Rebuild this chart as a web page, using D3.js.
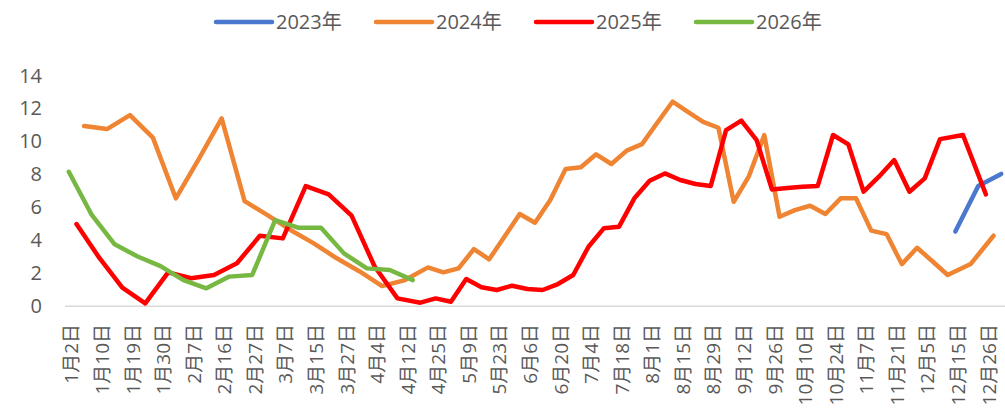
<!DOCTYPE html>
<html>
<head>
<meta charset="utf-8">
<script src="https://d3js.org/d3.v7.min.js"></script>
<style type="text/css">
  body { margin:0; background:#fff; }
  .canvas text { fill:#595959; font-family:"Open Sans","Noto Sans CJK SC",sans-serif; }
  .series { fill:none; stroke-width:4.5; stroke-linejoin:round; stroke-linecap:round; }
</style>
</head>
<body>
<svg id="visRegion" width="1005" height="409"></svg>
<script>
  // x axis labels, one every 4 categories (123 categories in all)
  var nCats = 123;
  var tickLabels = ["1月2日","1月10日","1月19日","1月30日","2月7日","2月16日","2月27日","3月7日",
    "3月15日","3月27日","4月4日","4月12日","4月25日","5月9日","5月23日","6月6日","6月20日",
    "7月4日","7月18日","8月1日","8月15日","8月29日","9月12日","9月26日","10月10日","10月24日",
    "11月7日","11月21日","12月5日","12月15日","12月26日"];
  var yTicks = [0,2,4,6,8,10,12,14];

  var seriesNames = ["2023年","2024年","2025年","2026年"];
  var seriesColors = ["#4a78ce","#ef8432","#ff0000","#77b843"];

  // category slot of every point of each year
  var idx2023 = [116,119,122];
  var idx2024 = [2,5,8,11,14,17,20,23,26,29,32,35,38,41,44,
    47,49,51,53,55,57,59,61,63,65,67,69,71,73,75,77,79,81,83,85,87,89,91,93,95,
    97,99,101,103,105,107,109,111,113,115,118,121];
  var idx2025 = [1,4,7,10,13,16,19,22,25,28,31,34,37,40,43,
    46,48,50,52,54,56,58,60,62,64,66,68,70,72,74,76,78,80,82,84,86,88,90,92,94,
    96,98,100,102,104,106,108,110,112,114,117,120];
  var idx2026 = [0,3,6,9,12,15,18,21,24,27,30,33,36,39,42,45];

  var val2023 = [4.5,7.27,8.0];
  var val2024 = [10.9,10.72,11.57,10.2,6.52,8.9,11.37,6.35,5.5,4.6,3.8,2.9,2.1,1.2,1.56,
    2.33,2.03,2.27,3.44,2.82,4.19,5.57,5.04,6.42,8.3,8.4,9.19,8.6,9.41,9.81,11.1,12.38,11.77,11.16,10.8,6.31,7.87,10.36,5.4,5.8,
    6.07,5.57,6.52,6.52,4.56,4.35,2.53,3.52,2.7,1.87,2.53,4.25];
  var val2025 = [4.96,2.9,1.1,0.15,2.03,1.67,1.87,2.58,4.25,4.09,7.26,6.76,5.47,2.4,0.45,
    0.19,0.45,0.25,1.62,1.12,0.96,1.22,1.02,0.96,1.32,1.87,3.58,4.7,4.8,6.52,7.59,8.03,7.63,7.39,7.27,10.66,11.23,10.05,7.06,7.15,
    7.22,7.27,10.36,9.79,6.92,7.83,8.84,6.92,7.73,10.11,10.36,6.76];
  var val2026 = [8.13,5.51,3.73,2.99,2.41,1.56,1.06,1.77,1.87,5.2,4.74,4.74,3.18,2.27,2.17,1.56];

  var allIdx = [idx2023, idx2024, idx2025, idx2026];
  var allVal = [val2023, val2024, val2025, val2026];

  //layout
  var plot = {left:65, right:1005, top:75, bottom:305.8};

  var svg = d3.select('#visRegion');
  var canvas = svg.append('g').attr('class','canvas');

  var x = d3.scalePoint()
      .domain(d3.range(nCats))
      .range([plot.left, plot.right])
      .padding(0.5);
  var y = d3.scaleLinear()
      .domain([0,14])
      .range([plot.bottom, plot.top]);

  // y labels, no axis line or grid
  var yAxis = canvas.append('g')
      .attr('transform','translate(48,0)')
      .call(d3.axisLeft(y).tickValues(yTicks).tickSize(0).tickPadding(6));
  yAxis.select('.domain').remove();
  yAxis.selectAll('text').style('font-size','20px').attr('dy','0.35em');

  // x axis baseline
  canvas.append('line')
      .attr('x1',plot.left).attr('x2',plot.right)
      .attr('y1',y(0)+0.5).attr('y2',y(0)+0.5)
      .attr('stroke','#d9d9d9').attr('stroke-width',1.5);

  // x labels, rotated
  var labelIdx = tickLabels.map(function(d,i){ return i*4; });
  canvas.append('g').selectAll('text')
      .data(labelIdx).enter().append('text')
      .attr('transform',function(d){ return 'translate('+(x(d)+3)+',324) rotate(-90)'; })
      .attr('text-anchor','end')
      .attr('dy','0.35em')
      .style('font-size','19px')
      .text(function(d,i){ return tickLabels[i]; });

  // lines
  var line = d3.line()
      .x(function(d){ return x(d[0]); })
      .y(function(d){ return y(d[1]); });

  seriesNames.forEach(function(name,s){
    var pts = allIdx[s].map(function(c,i){ return [c, allVal[s][i]]; });
    canvas.append('path')
        .datum(pts)
        .attr('class','series')
        .attr('stroke',seriesColors[s])
        .attr('d',line);
  });

  // legend
  var legend = canvas.append('g').attr('transform','translate(216,22)');
  var item = legend.selectAll('g')
      .data(seriesNames).enter().append('g')
      .attr('transform',function(d,i){ return 'translate('+(i*160)+',0)'; });
  item.append('line')
      .attr('x1',0).attr('x2',56).attr('y1',0).attr('y2',0)
      .attr('stroke',function(d,i){ return seriesColors[i]; })
      .attr('stroke-width',4.5)
      .attr('stroke-linecap','round');
  item.append('text')
      .attr('x',60).attr('dy','0.35em')
      .style('font-size','20px')
      .text(function(d){ return d; });
</script>
</body>
</html>
